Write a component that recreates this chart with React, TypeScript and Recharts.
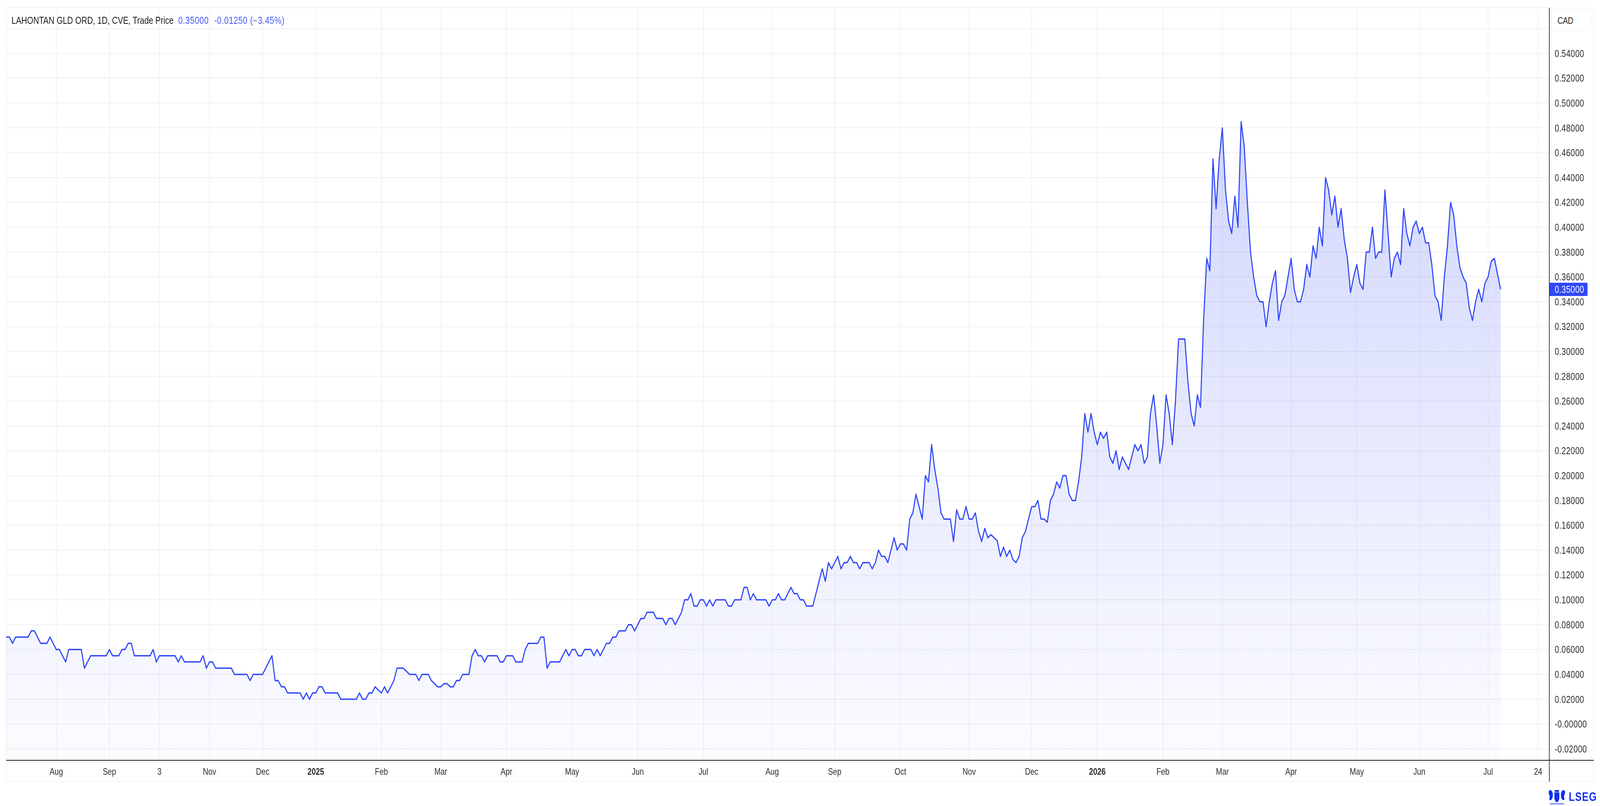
import React from 'react';
import { AreaChart, Area, XAxis, YAxis, CartesianGrid, ReferenceLine } from 'recharts';

// daily trade prices (CAD), one value per trading session
const prices2024 = [
  0.07, 0.07, 0.065, 0.07, 0.07, 0.07, 0.07, 0.07, 0.075, 0.075,
  0.07, 0.065, 0.065, 0.065, 0.07, 0.065, 0.06, 0.06, 0.055, 0.05,
  0.06, 0.06, 0.06, 0.06, 0.06, 0.045, 0.05, 0.055, 0.055, 0.055,
  0.055, 0.055, 0.055, 0.06, 0.055, 0.055, 0.055, 0.06, 0.06, 0.065,
  0.065, 0.055, 0.055, 0.055, 0.055, 0.055, 0.055, 0.06, 0.05, 0.055,
  0.055, 0.055, 0.055, 0.055, 0.055, 0.05, 0.055, 0.05, 0.05, 0.05,
  0.05, 0.05, 0.05, 0.055, 0.045, 0.05, 0.05, 0.045, 0.045, 0.045,
  0.045, 0.045, 0.045, 0.04, 0.04, 0.04, 0.04, 0.04, 0.035, 0.04,
  0.04, 0.04, 0.04, 0.045, 0.05, 0.055, 0.035, 0.035, 0.03, 0.03,
  0.025, 0.025, 0.025, 0.025, 0.025, 0.02, 0.025, 0.02, 0.025,
];

const prices2025 = [
  0.025, 0.03, 0.03, 0.025, 0.025, 0.025, 0.025, 0.025, 0.02, 0.02,
  0.02, 0.02, 0.02, 0.02, 0.025, 0.02, 0.02, 0.025, 0.025, 0.03,
  0.0275, 0.025, 0.03, 0.025, 0.03, 0.035, 0.045, 0.045, 0.045, 0.0425,
  0.04, 0.04, 0.04, 0.035, 0.04, 0.04, 0.04, 0.035, 0.0325, 0.03,
  0.03, 0.0325, 0.0325, 0.03, 0.03, 0.035, 0.035, 0.04, 0.04, 0.04,
  0.055, 0.06, 0.055, 0.055, 0.05, 0.055, 0.055, 0.055, 0.055, 0.05,
  0.05, 0.055, 0.055, 0.055, 0.05, 0.05, 0.05, 0.06, 0.065, 0.065,
  0.065, 0.065, 0.07, 0.07, 0.045, 0.05, 0.05, 0.05, 0.05, 0.055,
  0.06, 0.055, 0.06, 0.06, 0.055, 0.055, 0.06, 0.06, 0.06, 0.055,
  0.06, 0.055, 0.06, 0.065, 0.065, 0.07, 0.07, 0.075, 0.075, 0.075,
  0.08, 0.08, 0.075, 0.08, 0.085, 0.085, 0.09, 0.09, 0.09, 0.085,
  0.085, 0.085, 0.08, 0.085, 0.085, 0.08, 0.085, 0.09, 0.10, 0.10,
  0.105, 0.095, 0.095, 0.10, 0.10, 0.095, 0.10, 0.095, 0.10, 0.10,
  0.10, 0.10, 0.095, 0.095, 0.10, 0.10, 0.10, 0.11, 0.11, 0.10,
  0.105, 0.10, 0.10, 0.10, 0.10, 0.095, 0.10, 0.10, 0.105, 0.10,
  0.10, 0.105, 0.11, 0.105, 0.105, 0.10, 0.10, 0.095, 0.095, 0.095,
  0.105, 0.115, 0.125, 0.115, 0.13, 0.125, 0.13, 0.135, 0.125, 0.13,
  0.13, 0.135, 0.13, 0.13, 0.125, 0.13, 0.13, 0.13, 0.125, 0.13,
  0.14, 0.135, 0.135, 0.13, 0.14, 0.15, 0.14, 0.145, 0.145, 0.14,
  0.165, 0.17, 0.185, 0.175, 0.165, 0.20, 0.195, 0.225, 0.205, 0.19,
  0.17, 0.165, 0.165, 0.165, 0.147, 0.1725, 0.165, 0.165, 0.175, 0.165,
  0.165, 0.17, 0.155, 0.147, 0.1575, 0.15, 0.1525, 0.15, 0.1475, 0.135,
  0.1425, 0.135, 0.14, 0.1325, 0.13, 0.135, 0.15, 0.155, 0.165, 0.175,
  0.175, 0.18, 0.165, 0.165, 0.1625, 0.18, 0.185, 0.195, 0.19, 0.20,
  0.20, 0.185, 0.18, 0.18, 0.195, 0.215, 0.25, 0.235, 0.25, 0.235,
];

const prices2026 = [
  0.225, 0.235, 0.23, 0.235, 0.215, 0.21, 0.22, 0.205, 0.215, 0.21,
  0.205, 0.215, 0.225, 0.22, 0.225, 0.21, 0.215, 0.25, 0.265, 0.24,
  0.21, 0.225, 0.265, 0.25, 0.225, 0.26, 0.31, 0.31, 0.31, 0.275,
  0.25, 0.24, 0.265, 0.255, 0.325, 0.375, 0.365, 0.455, 0.415, 0.455,
  0.48, 0.43, 0.405, 0.395, 0.425, 0.40, 0.485, 0.465, 0.42, 0.38,
  0.36, 0.345, 0.34, 0.34, 0.32, 0.34, 0.355, 0.365, 0.325, 0.34,
  0.345, 0.36, 0.375, 0.35, 0.34, 0.34, 0.35, 0.37, 0.36, 0.385,
  0.375, 0.40, 0.385, 0.44, 0.43, 0.41, 0.425, 0.40, 0.415, 0.39,
  0.375, 0.3475, 0.36, 0.37, 0.355, 0.35, 0.38, 0.38, 0.40, 0.375,
  0.38, 0.38, 0.43, 0.395, 0.36, 0.375, 0.38, 0.37, 0.415, 0.395,
  0.385, 0.40, 0.405, 0.395, 0.40, 0.3875, 0.3875, 0.37, 0.345, 0.34,
  0.325, 0.36, 0.385, 0.42, 0.41, 0.385, 0.3675, 0.36, 0.355, 0.335,
  0.325, 0.34, 0.35, 0.34, 0.355, 0.36, 0.3725, 0.375, 0.3625, 0.35,
];

// x axis: session index of each label
const xTickIdx = [16, 33, 49, 65, 82, 99, 120, 139, 160, 181, 202, 223, 245, 265, 286, 308, 328, 349, 370, 389, 411, 432, 452, 474, 490];
const xTickLabels = ['Aug', 'Sep', '3', 'Nov', 'Dec', '2025', 'Feb', 'Mar', 'Apr', 'May', 'Jun', 'Jul', 'Aug', 'Sep', 'Oct', 'Nov', 'Dec', '2026', 'Feb', 'Mar', 'Apr', 'May', 'Jun', 'Jul', '24'];

const yTicks = [-0.02, 0, 0.02, 0.04, 0.06, 0.08, 0.1, 0.12, 0.14, 0.16, 0.18, 0.2, 0.22, 0.24, 0.26, 0.28, 0.3, 0.32, 0.34, 0.36, 0.38, 0.4, 0.42, 0.44, 0.46, 0.48, 0.5, 0.52, 0.54, 0.56];

const Y_MIN = -0.0292;
const Y_MAX = 0.5767;
const X_MAX = 493.6;

const PAGE_W = 5118;
const PAGE_H = 2064;

const BLUE = '#3148f7';
const TITLE_BLUE = '#4456f5';
const FONT = '"Liberation Sans", Arial, Helvetica, sans-serif';

const prices = [...prices2024, ...prices2025, ...prices2026];
const lastPrice = prices[prices.length - 1];
const data = prices.map((v, i) => ({ i, v }));

const fmtY = (v: number) => (Math.abs(v) < 1e-9 ? '-0.00000' : v.toFixed(5));

const XTick = (props: any) => {
  const { x, y, payload } = props;
  const k = xTickIdx.indexOf(payload.value);
  const label = k >= 0 ? xTickLabels[k] : '';
  const bold = label === '2025' || label === '2026';
  return (
    <text x={x} y={y + 37} textAnchor="middle" fontSize={24} fontFamily={FONT}
      fontWeight={bold ? 700 : 400} fill="#2b2b2b">
      {label}
    </text>
  );
};

const YTick = (props: any) => {
  const { x, y, payload } = props;
  if (payload.value > 0.55) return null;
  return (
    <text x={x + 17} y={y} dy="0.36em" textAnchor="start" fontSize={25} fontFamily={FONT}
      letterSpacing={0.6} fill="#2b2b2b">
      {fmtY(payload.value)}
    </text>
  );
};

const PriceTag = (props: any) => {
  const vb = props.viewBox || {};
  const x0 = vb.x + vb.width;
  return (
    <g>
      <rect x={x0} y={vb.y - 17} width={122} height={34} rx={3} fill={BLUE} />
      <text x={x0 + 17} y={vb.y} dy="0.36em" fontSize={25} fontFamily={FONT}
        letterSpacing={0.6} fill="#ffffff">
        {lastPrice.toFixed(5)}
      </text>
    </g>
  );
};

const Crest = () => (
  <svg width={58} height={44} viewBox="0 0 58 44" style={{ position: 'absolute', left: 4951, top: 2020 }}>
    <g fill="#1230f2">
      <path d="M21 9 h16 v13 q0 9 -8 13 q-8 -4 -8 -13 z" />
      <path d="M3 7 q3 -6 8 -3 q4 3 5 9 q1 7 -2 12 q-3 5 -7 4 q-3 -1 -2 -5 q2 -4 0 -8 q-3 -4 -2 -9 z" />
      <path d="M55 7 q-3 -6 -8 -3 q-4 3 -5 9 q-1 7 2 12 q3 5 7 4 q3 -1 2 -5 q-2 -4 0 -8 q3 -4 2 -9 z" />
      <rect x={22} y={3} width={14} height={5} rx={2} />
      <rect x={6} y={37} width={46} height={3} rx={1} opacity={0.6} />
    </g>
  </svg>
);

export default function App() {
  // the browser viewport can be narrower than the design; fit the whole layout into it
  const vw = typeof window !== 'undefined' ? window.innerWidth : PAGE_W;
  const vh = typeof window !== 'undefined' ? window.innerHeight : PAGE_H;
  const sx = vw / PAGE_W;
  const sy = vh / PAGE_H;

  return (
    <div style={{ position: 'fixed', left: 0, top: 0, width: vw, height: vh, overflow: 'hidden', background: '#ffffff' }}>
      <style>{'html,body{margin:0;padding:0;overflow:hidden;background:#fff}'}</style>
      <div style={{
        position: 'absolute', left: 0, top: 0, width: PAGE_W, height: PAGE_H,
        transform: `scale(${sx}, ${sy})`, transformOrigin: '0 0', fontFamily: FONT,
      }}>
        {/* outer frame */}
        <div style={{ position: 'absolute', left: 20, top: 20, width: 5078, height: 1982, border: '1.5px solid #ececec', boxSizing: 'border-box' }} />

        <div style={{ position: 'absolute', left: 0, top: 0 }}>
          <AreaChart width={PAGE_W} height={PAGE_H} data={data} margin={{ top: 20, right: 20, bottom: 62, left: 20 }}>
            <defs>
              <linearGradient id="areaFill" x1="0" y1="0" x2="0" y2="1">
                <stop offset="0%" stopColor={BLUE} stopOpacity={0.22} />
                <stop offset="100%" stopColor={BLUE} stopOpacity={0.015} />
              </linearGradient>
            </defs>
            <CartesianGrid stroke="#ebebeb" strokeWidth={1.5} />
            <XAxis
              dataKey="i"
              type="number"
              domain={[0, X_MAX]}
              ticks={xTickIdx}
              interval={0}
              height={55}
              tickSize={0}
              tickMargin={0}
              tickLine={false}
              axisLine={{ stroke: '#1a1a1a', strokeWidth: 2 }}
              tick={<XTick />}
            />
            <YAxis
              orientation="right"
              type="number"
              domain={[Y_MIN, Y_MAX]}
              ticks={yTicks}
              interval={0}
              width={142}
              tickSize={0}
              tickMargin={0}
              tickLine={false}
              axisLine={{ stroke: '#1a1a1a', strokeWidth: 2 }}
              tick={<YTick />}
            />
            <Area
              type="linear"
              dataKey="v"
              stroke={BLUE}
              strokeWidth={3.5}
              strokeLinejoin="round"
              fill="url(#areaFill)"
              fillOpacity={1}
              baseValue={Y_MIN}
              dot={false}
              activeDot={false}
              isAnimationActive={false}
            />
            <ReferenceLine y={lastPrice} stroke="none" label={<PriceTag />} />
          </AreaChart>
        </div>

        {/* axis line extensions into the scale corner */}
        <div style={{ position: 'absolute', left: 4956, top: 1946, width: 142, height: 2, background: '#1a1a1a' }} />
        <div style={{ position: 'absolute', left: 4955, top: 1947, width: 2, height: 55, background: '#1a1a1a' }} />

        {/* legend / title */}
        <div style={{ position: 'absolute', left: 37, top: 38, fontSize: 25.5, lineHeight: '28px', whiteSpace: 'nowrap', color: '#1a1a1a' }}>
          <span>LAHONTAN GLD ORD, 1D, CVE, Trade Price</span>
          <span style={{ color: TITLE_BLUE, marginLeft: 15, letterSpacing: 0.8 }}>0.35000</span>
          <span style={{ color: TITLE_BLUE, marginLeft: 17, letterSpacing: 0.8 }}>-0.01250 (−3.45%)</span>
        </div>

        {/* currency box */}
        <div style={{
          position: 'absolute', left: 4963, top: 28, width: 127, height: 51, boxSizing: 'border-box',
          border: '1.5px solid #e8e8e8', borderRadius: 8, background: '#ffffff',
          fontSize: 24, lineHeight: '48px', paddingLeft: 18, color: '#222222',
        }}>
          CAD
        </div>

        {/* LSEG mark */}
        <Crest />
        <div style={{ position: 'absolute', left: 5018, top: 2023, fontSize: 31, fontWeight: 700, lineHeight: '36px', letterSpacing: 1.5, color: '#1230f2' }}>
          LSEG
        </div>
      </div>
    </div>
  );
}
